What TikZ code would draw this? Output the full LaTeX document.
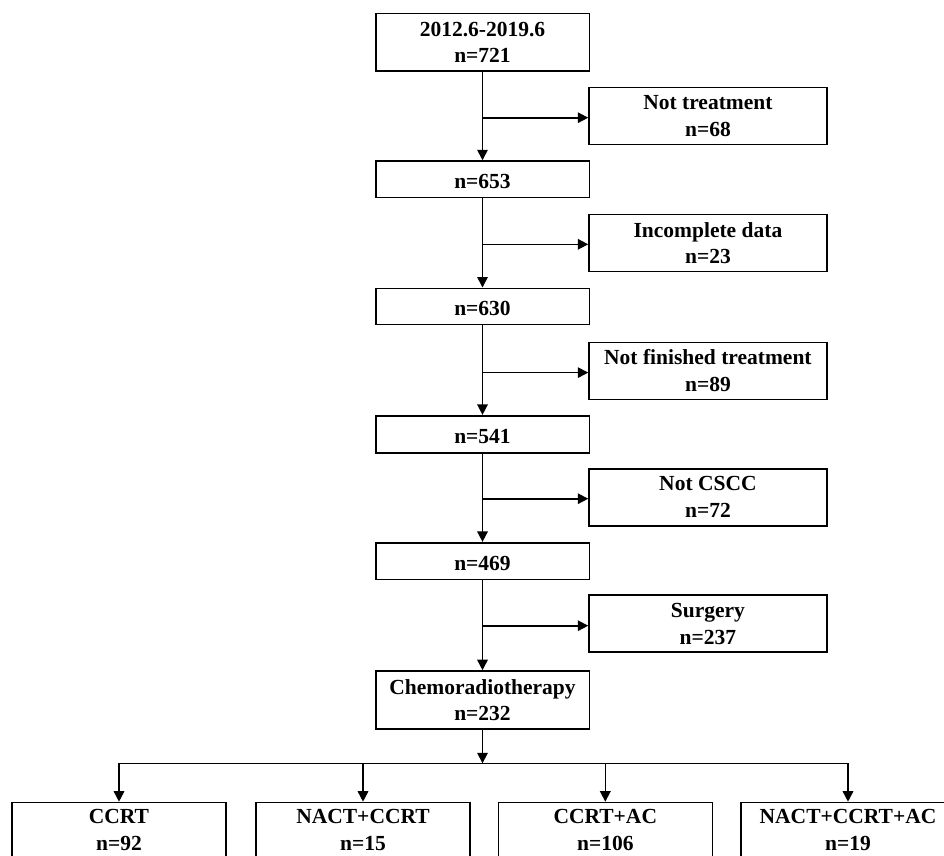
\documentclass[tikz,border=0pt]{standalone}
\usepackage{fontspec}
\setmainfont{Liberation Serif}
\usetikzlibrary{arrows.meta}
\tikzset{
  box/.style={draw, line width=1.6pt, align=center, inner sep=0pt,
    font=\bfseries\fontsize{21.5}{26.7}\selectfont,
    execute at begin node={\rule{0pt}{19pt}}},
  mainbox/.style={box, minimum width=213.6pt},
  sidebox/.style={box, minimum width=237.7pt, minimum height=57pt},
  botbox/.style={box, minimum width=214pt, minimum height=54.3pt, anchor=north},
  arr/.style={line width=1.6pt, -{Triangle[length=10.5pt,width=10.5pt]}},
  ln/.style={line width=1.6pt}
}
\begin{document}
\begin{tikzpicture}[x=1pt,y=-1pt]
\clip (0,0) rectangle (944,855);
\fill[white] (0,0) rectangle (944,855);
% main column
\node[mainbox, minimum height=57.7pt] (top) at (482.5,42.2) {2012.6-2019.6\\n=721};
\node[mainbox, minimum height=36.3pt] (m1) at (482.5,179.2) {n=653};
\node[mainbox, minimum height=36pt] (m2) at (482.5,306.3) {n=630};
\node[mainbox, minimum height=37pt] (m3) at (482.5,434.2) {n=541};
\node[mainbox, minimum height=36.6pt] (m4) at (482.5,561) {n=469};
\node[mainbox, minimum height=58pt] (chemo) at (482.5,700) {Chemoradiotherapy\\n=232};
% side boxes
\node[sidebox] (s1) at (707.9,116) {Not treatment\\n=68};
\node[sidebox] (s2) at (707.9,243) {Incomplete data\\n=23};
\node[sidebox] (s3) at (707.9,370.8) {Not finished treatment\\n=89};
\node[sidebox] (s4) at (707.9,497.2) {Not CSCC\\n=72};
\node[sidebox] (s5) at (707.9,623.7) {Surgery\\n=237};
% bottom boxes
\node[botbox] (b1) at (119,801.7) {CCRT\\n=92};
\node[botbox] (b2) at (363,801.7) {NACT+CCRT\\n=15};
\node[botbox] (b3) at (605.3,801.7) {CCRT+AC\\n=106};
\node[botbox] (b4) at (848,801.7) {NACT+CCRT+AC\\n=19};
% vertical arrows
\draw[arr] (top) -- (m1);
\draw[arr] (m1) -- (m2);
\draw[arr] (m2) -- (m3);
\draw[arr] (m3) -- (m4);
\draw[arr] (m4) -- (chemo);
% branch arrows
\draw[arr] ([yshift=-1.7pt]s1.west -| top.south) -- ([yshift=-1.7pt]s1.west);
\draw[arr] ([yshift=-1.3pt]s2.west -| top.south) -- ([yshift=-1.3pt]s2.west);
\draw[arr] ([yshift=-1.8pt]s3.west -| top.south) -- ([yshift=-1.8pt]s3.west);
\draw[arr] ([yshift=-1.5pt]s4.west -| top.south) -- ([yshift=-1.5pt]s4.west);
\draw[arr] ([yshift=-2pt]s5.west -| top.south) -- ([yshift=-2pt]s5.west);
% distribution
\coordinate (hub) at (482.5,763.3);
\draw[arr] (chemo.south) -- (hub);
\draw[ln] (b1.north |- hub) -- (b4.north |- hub);
\draw[arr] (b1.north |- hub) -- (b1.north);
\draw[arr] (b2.north |- hub) -- (b2.north);
\draw[arr] (b3.north |- hub) -- (b3.north);
\draw[arr] (b4.north |- hub) -- (b4.north);
\end{tikzpicture}
\end{document}
